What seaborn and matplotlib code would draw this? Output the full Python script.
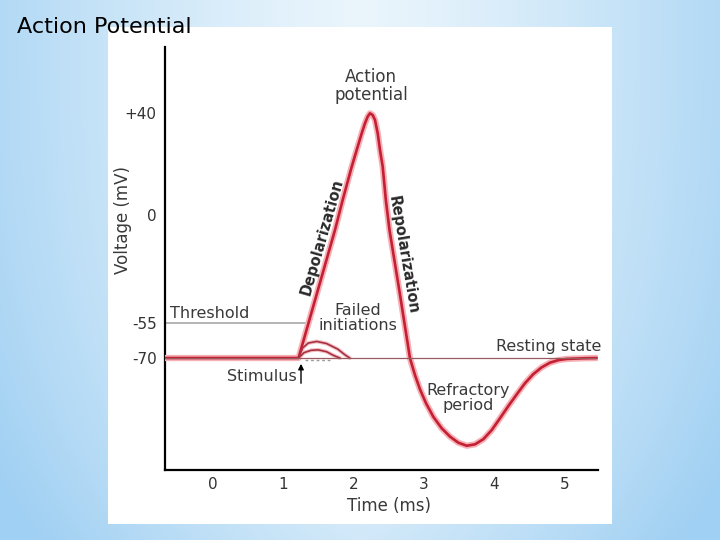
import numpy as np
import pandas as pd
import seaborn as sns

import matplotlib
matplotlib.use("Agg")  # headless mode (no GUI)

import matplotlib.pyplot as plt
from matplotlib.patches import Rectangle

# membrane potential trace
time_ms = [-0.675, 1.222, 1.740, 1.849, 1.977, 2.048, 2.119, 2.166, 2.204, 2.237,
           2.275, 2.308, 2.347, 2.379, 2.418, 2.462, 2.514, 2.66, 2.805, 2.876,
           2.947, 3.033, 3.137, 3.255, 3.374, 3.492, 3.611, 3.729, 3.847, 3.966,
           4.084, 4.202, 4.321, 4.439, 4.557, 4.676, 4.794, 4.912, 5.031, 5.29,
           5.457]
voltage_mv = [-70, -70, -7.6, 5.9, 18.9, 25.5, 32.0, 36.0, 38.6, 39.9,
              39.2, 37.3, 32.0, 25.5, 18.9, 5.9, -7.6, -39.8, -70.1, -77.3,
              -83.4, -89.4, -95.2, -100.1, -103.7, -106.3, -107.6, -107.0, -104.8, -100.9,
              -95.8, -90.6, -85.6, -80.8, -76.9, -74.0, -72.0, -70.9, -70.4, -70.1,
              -70]

# the two failed initiations
fail_outer_t = [1.222, 1.28, 1.36, 1.48, 1.62, 1.78, 1.88, 1.95]
fail_outer_v = [-70, -65.7, -63.6, -62.9, -63.8, -66.2, -68.6, -70]
fail_inner_t = [1.222, 1.30, 1.40, 1.50, 1.62, 1.72, 1.81]
fail_inner_v = [-70, -67.7, -66.7, -66.5, -67.3, -68.9, -70]

x_ticks = [0, 1, 2, 3, 4, 5]
y_ticks = [40, 0, -55, -70]
y_tick_labels = ["+40", "0", "-55", "-70"]

resting_mv = -70
threshold_mv = -55
stimulus_ms = 1.257

# the drawing's voltage axis is not evenly spaced: piecewise scale through the ticks
knot_mv = np.array([-70.0, -55.0, 0.0, 40.0])
knot_pos = np.array([0.0, 35.0, 143.0, 245.0])
slope_lo = 35.0 / 15.0
slope_hi = 102.0 / 40.0


def volt_fwd(v):
    v = np.asarray(v, dtype=float)
    u = np.interp(v, knot_mv, knot_pos)
    u = np.where(v < knot_mv[0], (v - knot_mv[0]) * slope_lo, u)
    u = np.where(v > knot_mv[-1], knot_pos[-1] + (v - knot_mv[-1]) * slope_hi, u)
    return u


def volt_inv(u):
    u = np.asarray(u, dtype=float)
    v = np.interp(u, knot_pos, knot_mv)
    v = np.where(u < knot_pos[0], knot_mv[0] + u / slope_lo, v)
    v = np.where(u > knot_pos[-1], knot_mv[-1] + (u - knot_pos[-1]) / slope_hi, v)
    return v


sns.set_style("white")
plt.rcParams["font.family"] = ["DejaVu Sans"]

fig = plt.figure(figsize=(7.2, 5.4), dpi=100)

# slide background: soft blue gradient
bg = fig.add_axes([0, 0, 1, 1], zorder=-1)
yy, xx = np.mgrid[0:540, 0:720]
w = np.clip(np.abs(xx - 360) / 360.0, 0, 1) ** 1.3 * 0.75 + (yy / 540.0) ** 3 * 0.35
w = np.clip(w, 0, 1)[..., None]
light = np.array([234, 245, 252]) / 255.0
dark = np.array([160, 208, 243]) / 255.0
bg.imshow(light + (dark - light) * w, aspect="auto", extent=[0, 1, 0, 1])
# white panel holding the diagram
bg.add_patch(Rectangle((108 / 720, 1 - 524 / 540), 504 / 720, 497 / 540,
                       transform=bg.transAxes, facecolor="white",
                       edgecolor="none", zorder=2))
bg.set_xlim(0, 1)
bg.set_ylim(0, 1)
bg.axis("off")

fig.text(17 / 720, 1 - 27 / 540, "Action Potential", fontsize=16,
         color="black", va="center", ha="left")

ax = fig.add_axes([165 / 720, 1 - 470 / 540, 433 / 720, 423 / 540])
ax.set_facecolor("none")
ax.set_yscale("function", functions=(volt_fwd, volt_inv))
ax.set_xlim(-0.675, 5.476)
ax.set_ylim(-118.0, 65.9)

# threshold reference line
ax.plot([-0.675, 1.31], [threshold_mv, threshold_mv], color="#b4b4b4", lw=1.4, zorder=2)

df = pd.DataFrame({"t": time_ms, "v": voltage_mv})
sns.lineplot(data=df, x="t", y="v", ax=ax, color="#f6b0b6", lw=4.5,
             sort=False, estimator=None, zorder=3)
sns.lineplot(data=df, x="t", y="v", ax=ax, color="#c41f33", lw=1.9,
             sort=False, estimator=None, zorder=4)

for ft, fv in [(fail_outer_t, fail_outer_v), (fail_inner_t, fail_inner_v)]:
    sns.lineplot(x=ft, y=fv, ax=ax, color="#f2c0c4", lw=2.8, sort=False,
                 estimator=None, zorder=3)
    sns.lineplot(x=ft, y=fv, ax=ax, color="#a83040", lw=1.2, sort=False,
                 estimator=None, zorder=4)

ax.axhline(resting_mv, color="#9a5a60", lw=0.9, zorder=5)
ax.plot([1.31, 1.69], [resting_mv - 0.9, resting_mv - 0.9], color="#9a9a9a",
        lw=1.0, ls=(0, (2, 2)), zorder=5)

# stimulus arrow
ax.annotate("", xy=(stimulus_ms, -71.3), xytext=(stimulus_ms, -82),
            arrowprops=dict(arrowstyle="-|>", color="black", lw=1.0,
                            mutation_scale=8), zorder=6)

txt = "#3a3a3a"
ax.text(2.251, 50.6, "Action\npotential", ha="center", va="center",
        fontsize=12, color=txt, linespacing=1.0)
ax.text(1.551, -11.1, "Depolarization", ha="center", va="center", rotation=74,
        fontsize=10.5, fontweight="bold", color="#2a2a2a")
ax.text(2.71, -20.4, "Repolarization", ha="center", va="center", rotation=-80.3,
        fontsize=10.5, fontweight="bold", color="#2a2a2a")
ax.text(2.067, -52.5, "Failed\ninitiations", ha="center", va="center",
        fontsize=11.5, color=txt, linespacing=1.0)
ax.text(4.77, -65.2, "Resting state", ha="center", va="center",
        fontsize=11.5, color=txt, clip_on=False)
ax.text(3.63, -87.1, "Refractory\nperiod", ha="center", va="center",
        fontsize=11.5, color=txt, linespacing=1.05)
ax.text(1.20, -78.0, "Stimulus", ha="right", va="center", fontsize=11.5, color=txt)
ax.text(-0.604, -50.4, "Threshold", ha="left", va="center", fontsize=11.5, color=txt)

ax.text(-0.097, 0.591, "Voltage (mV)", transform=ax.transAxes, rotation=90,
        ha="center", va="center", fontsize=12, color=txt)
ax.text(0.517, -0.085, "Time (ms)", transform=ax.transAxes,
        ha="center", va="center", fontsize=12, color=txt)

ax.set_xticks(x_ticks)
ax.set_yticks(y_ticks)
ax.set_yticklabels(y_tick_labels)
ax.minorticks_off()
ax.tick_params(axis="both", length=0, labelsize=11, labelcolor="#333333")
ax.tick_params(axis="y", pad=6)
ax.tick_params(axis="x", pad=5)
ax.set_xlabel("")
ax.set_ylabel("")

sns.despine(ax=ax)
for side in ["left", "bottom"]:
    ax.spines[side].set_color("black")
    ax.spines[side].set_linewidth(1.6)

fig.savefig("out.png", dpi=100)
